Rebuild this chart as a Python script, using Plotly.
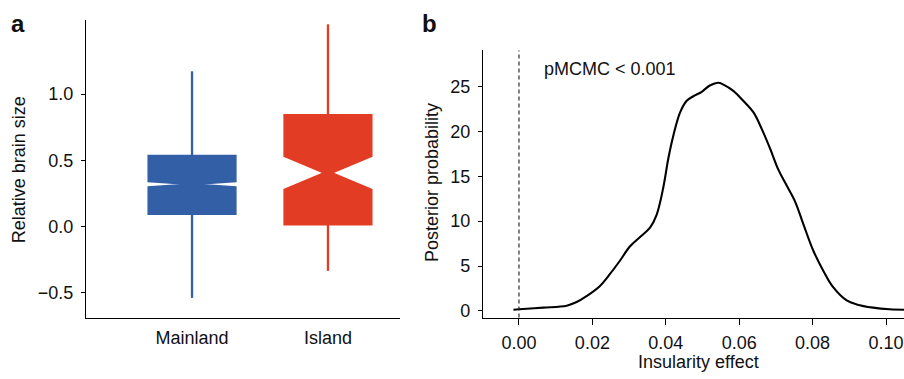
import plotly.graph_objects as go

# ---------------- data ----------------
# Panel a: notched box summaries
box_categories = ["Mainland", "Island"]
box_colors = ["#335FA7", "#E33C24"]
box_q1 = [0.092, 0.013]
box_median = [0.319, 0.405]
box_q3 = [0.537, 0.843]
box_lowerfence = [-0.537, -0.334]
box_upperfence = [1.17, 1.525]
box_notchspan = [0.02, 0.125]

# Panel b: posterior density of insularity effect
effect_x = [-0.0015, 0.0, 0.0066, 0.013, 0.0157, 0.0184, 0.022, 0.0248, 0.0275,
            0.0302, 0.033, 0.0357, 0.0375, 0.0393, 0.0407, 0.0421, 0.0439, 0.0457,
            0.0475, 0.0498, 0.052, 0.0543, 0.0557, 0.0584, 0.0611, 0.0639, 0.0661,
            0.0684, 0.0707, 0.0729, 0.0752, 0.0775, 0.0802, 0.0829, 0.0856, 0.0893,
            0.092, 0.0965, 0.101, 0.1049]
posterior_y = [0.14, 0.19, 0.37, 0.59, 0.99, 1.65, 2.76, 4.12, 5.59,
               7.17, 8.24, 9.27, 10.7, 13.7, 17.0, 19.6, 22.1, 23.4,
               23.9, 24.4, 25.1, 25.4, 25.2, 24.5, 23.4, 22.1, 20.3,
               18.1, 15.7, 14.0, 12.2, 9.64, 6.7, 4.49, 2.65, 1.17,
               0.73, 0.37, 0.19, 0.14]

panel_a_yticks = [-0.5, 0.0, 0.5, 1.0]
panel_b_yticks = [0, 5, 10, 15, 20, 25]
panel_b_xticks = [0.00, 0.02, 0.04, 0.06, 0.08, 0.10]

# ---------------- figure ----------------
W, H = 904, 379
FONT = "Liberation Sans, Arial, Helvetica, sans-serif"
TXT = "#111111"

def px(x):
    return x / W

def py(y):
    return (H - y) / H

fig = go.Figure()

for i, cat in enumerate(box_categories):
    col = box_colors[i]
    fig.add_trace(go.Box(
        x=[cat], q1=[box_q1[i]], median=[box_median[i]], q3=[box_q3[i]],
        lowerfence=[box_lowerfence[i]], upperfence=[box_upperfence[i]],
        notchspan=[box_notchspan[i]], notched=True, notchwidth=0.45,
        width=0.645, whiskerwidth=0, boxpoints=False,
        fillcolor=col, line=dict(color=col, width=1.5),
        xaxis="x", yaxis="y", showlegend=False, hoverinfo="skip",
    ))
    # whiskers drawn from the same summary values
    fig.add_trace(go.Scatter(
        x=[cat, cat, None, cat, cat],
        y=[box_lowerfence[i], box_q1[i], None, box_q3[i], box_upperfence[i]],
        mode="lines", line=dict(color=col, width=2.3),
        xaxis="x", yaxis="y", showlegend=False, hoverinfo="skip",
    ))

fig.add_trace(go.Scatter(
    x=effect_x, y=posterior_y, mode="lines", line=dict(color="black", width=2.1, shape="spline"),
    xaxis="x2", yaxis="y2", showlegend=False, hoverinfo="skip",
))

axis_common = dict(
    showline=True, linecolor="black", linewidth=1.4, showgrid=False, zeroline=False,
    ticks="outside", ticklen=4, tickwidth=1.3, tickcolor="black",
    tickfont=dict(family=FONT, size=18, color=TXT),
)

fig.update_layout(
    width=W, height=H,
    margin=dict(l=0, r=0, t=0, b=0),
    paper_bgcolor="white", plot_bgcolor="white",
    font=dict(family=FONT, size=18, color=TXT),
    xaxis=dict(axis_common, domain=[px(86), px(400)], range=[-0.78, 1.53],
               type="category", ticks="", ticklabelstandoff=4, anchor="y"),
    yaxis=dict(axis_common, domain=[py(321), py(20)], range=[-0.687, 1.56],
               tickvals=panel_a_yticks, tickformat=".1f", ticklabelstandoff=4, anchor="x"),
    xaxis2=dict(axis_common, domain=[px(483), 1.0], range=[-0.0098, 0.1049],
                tickvals=panel_b_xticks, tickformat=".2f", ticklen=6, ticklabelstandoff=3, anchor="y2"),
    yaxis2=dict(axis_common, domain=[py(321), py(51)], range=[-0.74, 29.0],
                tickvals=panel_b_yticks, ticklabelstandoff=4, anchor="x2"),
)

fig.add_shape(type="line", xref="x2", yref="y2 domain", x0=0, x1=0, y0=0, y1=1,
              line=dict(color="#1a1a1a", width=1.1, dash="4px,3px"))

annotations = [
    dict(text="<b>a</b>", x=px(18), y=py(24), font=dict(size=24)),
    dict(text="<b>b</b>", x=px(429), y=py(24), font=dict(size=24)),
    dict(text="Relative brain size", x=px(19), y=py(172), textangle=-90),
    dict(text="Posterior probability", x=px(432), y=py(185), textangle=-90),
    dict(text="Insularity effect", x=px(698), y=py(366)),
    dict(text="pMCMC < 0.001", x=px(542), y=py(70), xanchor="left"),
]
for a in annotations:
    base = dict(xref="paper", yref="paper", showarrow=False, xanchor="center",
                yanchor="middle", font=dict(family=FONT, size=18, color=TXT))
    f = a.pop("font", None)
    base.update(a)
    if f:
        base["font"] = dict(family=FONT, color=TXT, **f)
    fig.add_annotation(**base)

fig.write_html("out.html", config={"displayModeBar": False},
               post_script="document.body.style.margin='0';document.body.style.overflow='hidden';")
